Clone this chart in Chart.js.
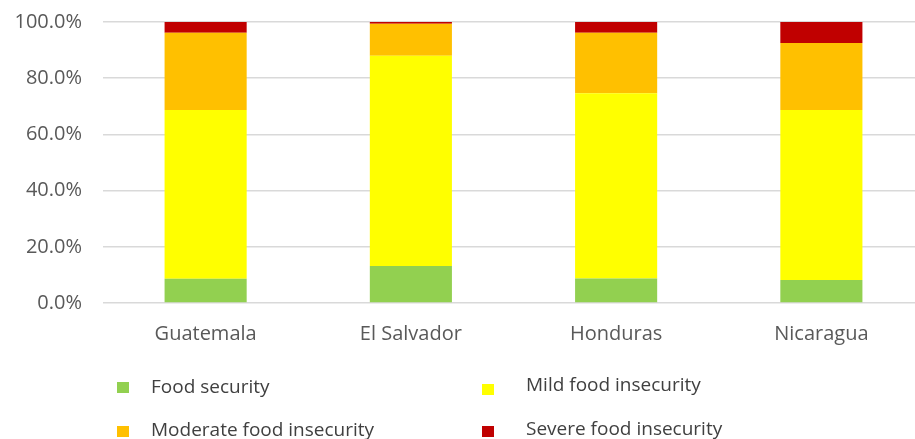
<!DOCTYPE html>
<html>
<head>
<meta charset="utf-8">
<script src="https://cdn.jsdelivr.net/npm/chart.js@4"></script>
<style>
  html, body { margin: 0; padding: 0; background: #fff; overflow: hidden; }
  #wrap { width: 924px; height: 439px; }
</style>
</head>
<body>
<div id="wrap"><canvas id="graph" width="924" height="439"></canvas></div>
<script>
// Share of households by food security level (%)
const countries = ['Guatemala', 'El Salvador', 'Honduras', 'Nicaragua'];
const foodSecurity = [8.6, 13.2, 8.7, 8.2];
const mildInsecurity = [60.1, 74.8, 65.9, 60.5];
const moderateInsecurity = [27.5, 11.4, 21.6, 23.8];
const severeInsecurity = [3.8, 0.6, 3.8, 7.5];
const yTicks = [0, 20, 40, 60, 80, 100];

const FONT = '"Open Sans", sans-serif';

// two-column legend under the axis labels
const legendGrid = {
    id: 'legendGrid',
    afterDraw(chart) {
        let ctx = chart.ctx;
        // left column, right column
        let boxX = [117, 482];
        let textX = [151, 526];
        let boxTop = [[382, 426], [384, 426]];
        let baseline = [[393, 436], [391, 435]];
        ctx.save();
        ctx.font = '19px ' + FONT;
        ctx.textBaseline = 'alphabetic';
        chart.data.datasets.forEach(function(ds, i) {
            let col = i % 2;
            let row = Math.floor(i / 2);
            ctx.fillStyle = ds.backgroundColor;
            ctx.fillRect(boxX[col], boxTop[col][row], 12, 11);
            ctx.fillStyle = '#404040';
            ctx.fillText(ds.label, textX[col], baseline[col][row]);
        });
        ctx.restore();
    }
};

let canvas = document.getElementById('graph').getContext('2d');
let chart = new Chart(canvas, {
    type: 'bar',
    data: {
        labels: countries,
        datasets: [
            { label: 'Food security', data: foodSecurity, backgroundColor: '#92D050' },
            { label: 'Mild food insecurity', data: mildInsecurity, backgroundColor: '#FFFF00' },
            { label: 'Moderate food insecurity', data: moderateInsecurity, backgroundColor: '#FFC000' },
            { label: 'Severe food insecurity', data: severeInsecurity, backgroundColor: '#C00000' }
        ]
    },
    options: {
        responsive: false,
        animation: false,
        layout: { padding: { top: 22, right: 0, bottom: 74, left: 0 } },
        datasets: { bar: { barPercentage: 0.4, categoryPercentage: 1, borderWidth: 0 } },
        plugins: { legend: { display: false }, tooltip: { enabled: false } },
        scales: {
            x: {
                stacked: true,
                grid: { display: false, drawTicks: false },
                border: { display: false },
                ticks: { color: '#595959', font: { family: FONT, size: 20 }, padding: 19 }
            },
            y: {
                stacked: true,
                min: 0,
                max: 100,
                afterFit(scale) {
                    scale.width = 103;
                    scale.paddingTop = 0;
                    scale.paddingBottom = 0;
                },
                afterBuildTicks(scale) { scale.ticks = yTicks.map(v => ({ value: v })); },
                grid: { color: '#d9d9d9', lineWidth: 1.5, drawTicks: false },
                border: { display: false },
                ticks: {
                    color: '#595959',
                    font: { family: FONT, size: 20 },
                    padding: 21,
                    callback: v => v.toFixed(1) + '%'
                }
            }
        }
    },
    plugins: [legendGrid]
});
</script>
</body>
</html>
